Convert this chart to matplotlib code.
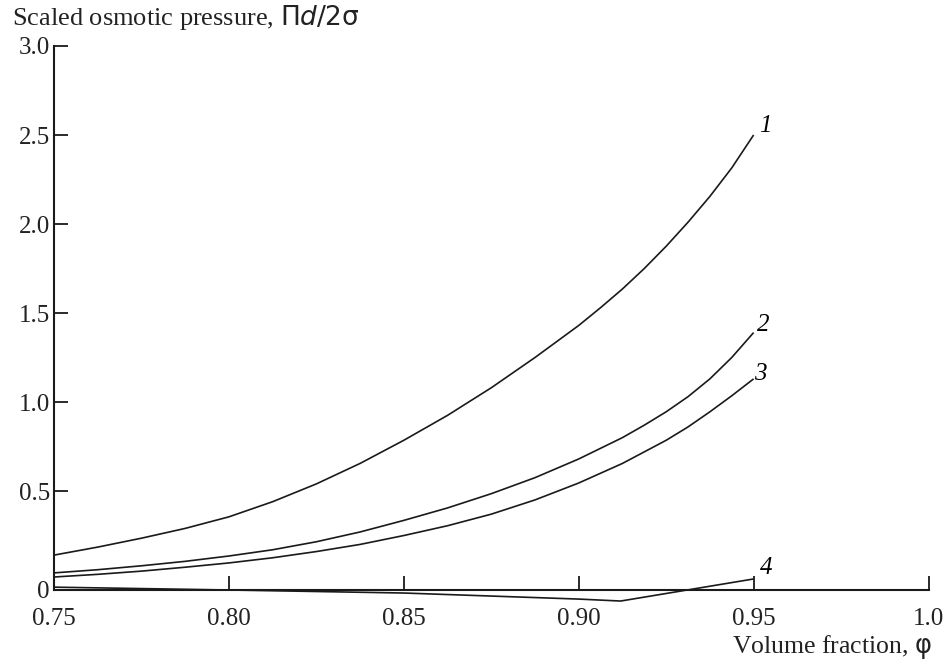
import numpy as np
import matplotlib
matplotlib.use("Agg")
import matplotlib.pyplot as plt

plt.rcParams['font.family'] = ['Liberation Serif', 'DejaVu Sans']
plt.rcParams['mathtext.fontset'] = 'dejavusans'

# volume fraction samples
phi = [0.75, 0.7625, 0.775, 0.7875, 0.80, 0.8125, 0.825, 0.8375, 0.85,
       0.8625, 0.875, 0.8875, 0.90, 0.90625, 0.9125, 0.91875, 0.925,
       0.93125, 0.9375, 0.94375, 0.95]

curve1 = [0.14, 0.185, 0.235, 0.29, 0.355, 0.44, 0.54, 0.655, 0.785,
          0.925, 1.08, 1.25, 1.43, 1.53, 1.635, 1.75, 1.875,
          2.01, 2.155, 2.315, 2.50]
curve2 = [0.04, 0.058, 0.08, 0.105, 0.135, 0.17, 0.215, 0.27, 0.335,
          0.405, 0.485, 0.575, 0.68, 0.74, 0.80, 0.87, 0.945,
          1.03, 1.13, 1.25, 1.39]
curve3 = [0.017, 0.032, 0.05, 0.072, 0.096, 0.125, 0.16, 0.20, 0.25,
          0.305, 0.37, 0.45, 0.545, 0.60, 0.655, 0.72, 0.785,
          0.86, 0.945, 1.035, 1.13]

phi4 = [0.75, 0.80, 0.85, 0.90, 0.912, 0.95]
curve4 = [-0.04, -0.056, -0.073, -0.107, -0.118, 0.006]

curve_labels = ['1', '2', '3', '4']
label_pos = [(0.9515, 2.55), (0.9510, 1.43), (0.9502, 1.16), (0.9518, 0.07)]

y_ticks = [0.5, 1.0, 1.5, 2.0, 2.5, 3.0]
x_ticks = [0.75, 0.80, 0.85, 0.90, 0.95, 1.0]
x_tick_labels = ['0.75', '0.80', '0.85', '0.90', '0.95', '1.0']

y_bottom = -0.056

fig = plt.figure(figsize=(9.51, 6.67), dpi=100)
ax = fig.add_axes([54 / 951, 1 - 590 / 667, (932 - 54) / 951, (590 - 46) / 667])

col = '#1a1a1a'
for xs, ys in [(phi, curve1), (phi, curve2), (phi, curve3), (phi4, curve4)]:
    ax.plot(xs, ys, color=col, lw=1.2, solid_capstyle='butt',
            solid_joinstyle='round', clip_on=False)

for lab, (tx, ty) in zip(curve_labels, label_pos):
    ax.text(tx, ty, lab, fontsize=18, style='italic', ha='left', va='center',
            color='black')

ax.set_xlim(0.75, 1.001)
ax.set_ylim(y_bottom, 3.0)

ax.spines['top'].set_visible(False)
ax.spines['right'].set_visible(False)
for s in ['left', 'bottom']:
    ax.spines[s].set_linewidth(1.5)
    ax.spines[s].set_color(col)
ax.spines['bottom'].set_bounds(0.75, 1.0)

ax.set_xticks(x_ticks)
ax.set_xticklabels(x_tick_labels)
ax.set_yticks([y_bottom] + y_ticks)
ax.set_yticklabels(['0'] + ['%.1f' % v for v in y_ticks])
ax.tick_params(direction='in', length=10, width=1.3, labelsize=18,
               colors=col, labelcolor='#222222')
ax.tick_params(axis='x', pad=13)
ax.tick_params(axis='y', pad=3)

fig.text(12 / 951, 1 - 18 / 667, r'Scaled osmotic pressure, $\Pi d/2\mathrm{\sigma}$',
         fontsize=19, ha='left', va='center', color='#222222')
fig.text(932 / 951, 1 - 647 / 667, r'Volume fraction, $\mathrm{\varphi}$',
         fontsize=18.5, ha='right', va='center', color='#222222')

fig.savefig('out.png', dpi=100)
